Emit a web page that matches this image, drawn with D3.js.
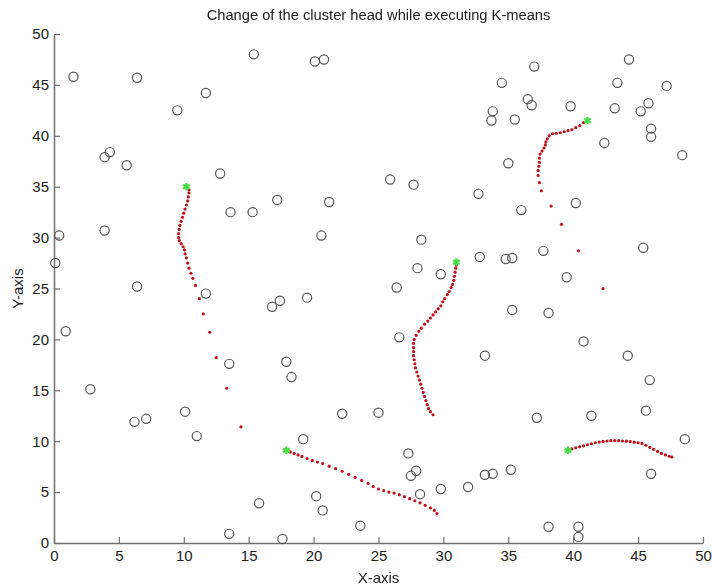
<!DOCTYPE html>
<html>
<head>
<meta charset="utf-8">
<script src="https://cdn.jsdelivr.net/npm/d3@7"></script>
<style>
  html, body { margin: 0; padding: 0; background: #fff; }
  svg { display: block; font-family: "Liberation Sans", Arial, sans-serif; }
</style>
</head>
<body>
<svg id="chart" width="712" height="587"></svg>
<script>
// Sensor node positions
const nodeX = [1.5, 6.4, 15.4, 20.1, 20.8, 11.7, 9.5, 3.9, 4.3, 5.6, 12.8, 17.2, 21.2, 13.6, 15.3, 3.9, 0.4, 20.6, 0.1, 6.4,
  11.7, 16.8, 17.4, 19.5, 0.9, 13.5, 17.9, 18.3, 2.8, 10.1, 6.2, 7.1, 22.2, 25.0, 11.0, 19.2, 20.2, 20.7, 15.8, 23.6,
  13.5, 17.6, 37.0, 44.3, 34.5, 43.4, 47.2, 36.5, 36.8, 39.8, 43.2, 45.8, 45.2, 33.8, 33.7, 35.5, 46.0, 46.0, 42.4, 48.4,
  35.0, 25.9, 27.7, 32.7, 40.2, 36.0, 28.3, 45.4, 32.8, 34.8, 35.3, 37.7, 28.0, 29.8, 39.5, 26.4, 35.3, 38.1, 26.6, 40.8,
  33.2, 44.2, 45.9, 37.2, 41.4, 45.6, 48.6, 27.3, 27.9, 27.5, 46.0, 33.2, 33.8, 35.2, 28.2, 29.8, 31.9, 38.1, 40.4, 40.4];
const nodeY = [45.8, 45.7, 48.0, 47.3, 47.5, 44.2, 42.5, 37.9, 38.4, 37.1, 36.3, 33.7, 33.5, 32.5, 32.5, 30.7, 30.2, 30.2, 27.5, 25.2,
  24.5, 23.2, 23.8, 24.1, 20.8, 17.6, 17.8, 16.3, 15.1, 12.9, 11.9, 12.2, 12.7, 12.8, 10.5, 10.2, 4.6, 3.2, 3.9, 1.7,
  0.9, 0.4, 46.8, 47.5, 45.2, 45.2, 44.9, 43.6, 43.0, 42.9, 42.7, 43.2, 42.4, 42.4, 41.5, 41.6, 40.7, 39.9, 39.3, 38.1,
  37.3, 35.7, 35.2, 34.3, 33.4, 32.7, 29.8, 29.0, 28.1, 27.9, 28.0, 28.7, 27.0, 26.4, 26.1, 25.1, 22.9, 22.6, 20.2, 19.8,
  18.4, 18.4, 16.0, 12.3, 12.5, 13.0, 10.2, 8.8, 7.1, 6.6, 6.8, 6.7, 6.8, 7.2, 4.8, 5.3, 5.5, 1.6, 1.6, 0.6];

// Cluster head positions over the K-means iterations (final head first)
const head1 = [[10.2,35.0],[10.4,34.7],[10.4,34.4],[10.35,34.0],[10.3,33.6],[10.2,33.2],[10.1,32.8],[10.0,32.4],[9.9,32.0],
  [9.8,31.6],[9.7,31.2],[9.65,30.8],[9.6,30.4],[9.6,30.0],[9.65,29.7],[9.8,29.4],[9.95,29.1],[10.05,28.8],[10.1,28.4],
  [10.2,28.0],[10.3,27.5],[10.4,27.0],[10.55,26.5],[10.7,26.0],[10.9,25.3],[11.2,24.0],[11.5,22.5],[12.0,20.7],
  [12.5,18.2],[13.3,15.2],[14.4,11.4]];
const head2 = [[31.0,27.6],[31.0,27.3],[30.95,27.0],[30.9,26.6],[30.85,26.2],[30.8,25.8],[30.7,25.4],[30.6,25.1],[30.45,24.7],
  [30.3,24.4],[30.1,24.0],[29.95,23.7],[29.8,23.3],[29.6,23.0],[29.4,22.7],[29.2,22.4],[29.0,22.1],[28.8,21.8],[28.55,21.5],
  [28.3,21.1],[28.1,20.8],[27.9,20.4],[27.75,20.0],[27.7,19.6],[27.7,19.2],[27.7,18.8],[27.7,18.4],[27.75,18.0],[27.8,17.6],
  [27.85,17.2],[27.95,16.8],[28.05,16.4],[28.15,16.0],[28.25,15.6],[28.35,15.2],[28.45,14.8],[28.55,14.4],[28.65,14.0],
  [28.75,13.6],[28.85,13.2],[29.0,12.9],[29.2,12.6]];
const head3 = [[17.9,9.1],[18.2,8.95],[18.5,8.8],[18.8,8.65],[19.1,8.5],[19.5,8.3],[19.9,8.1],[20.3,7.95],[20.7,7.8],[21.2,7.55],
  [21.7,7.3],[22.2,7.05],[22.7,6.75],[23.2,6.45],[23.7,6.15],[24.2,5.85],[24.6,5.55],[25.0,5.3],[25.4,5.15],[25.8,5.0],
  [26.2,4.9],[26.6,4.75],[27.0,4.55],[27.4,4.35],[27.8,4.15],[28.2,3.95],[28.6,3.7],[29.0,3.45],[29.3,3.2],[29.5,2.9]];
const head4 = [[41.1,41.5],[40.8,41.3],[40.5,41.0],[40.2,40.8],[39.9,40.6],[39.6,40.5],[39.3,40.4],[39.0,40.3],[38.7,40.25],
  [38.4,40.2],[38.15,40.0],[38.0,39.7],[37.9,39.4],[37.85,39.1],[37.75,38.8],[37.6,38.5],[37.45,38.2],[37.4,37.8],[37.4,37.4],
  [37.35,37.0],[37.3,36.6],[37.3,36.1],[37.4,35.4],[37.55,34.6],[38.3,33.1],[39.1,31.3],[40.4,28.7],[42.3,25.0]];
const head5 = [[39.6,9.1],[39.9,9.25],[40.2,9.35],[40.5,9.45],[40.8,9.55],[41.1,9.65],[41.4,9.75],[41.7,9.85],[42.0,9.92],
  [42.3,9.98],[42.6,10.02],[42.9,10.05],[43.2,10.05],[43.5,10.05],[43.8,10.02],[44.1,10.0],[44.4,9.97],[44.7,9.9],[45.0,9.85],
  [45.3,9.78],[45.6,9.6],[45.9,9.4],[46.2,9.2],[46.5,9.0],[46.8,8.8],[47.1,8.65],[47.4,8.52],[47.6,8.45]];
const heads = [head1, head2, head3, head4, head5];

const tickValues = [0, 5, 10, 15, 20, 25, 30, 35, 40, 45, 50];

const svg = d3.select("#chart");
const margin = { left: 54, right: 9, top: 34, bottom: 44 };
const W = 712, H = 587;

const x = d3.scaleLinear().domain([0, 50]).range([margin.left, W - margin.right]);
const y = d3.scaleLinear().domain([0, 50]).range([H - margin.bottom, margin.top]);

const defs = svg.append("defs");
defs.append("filter").attr("id", "soft")
  .append("feGaussianBlur").attr("stdDeviation", 0.7);

// Axes with inward ticks
const axisColor = "#707070";
const gx = svg.append("g")
  .attr("transform", `translate(0,${y(0)})`)
  .call(d3.axisBottom(x).tickValues(tickValues).tickSizeInner(-6).tickSizeOuter(0).tickPadding(7));
const gy = svg.append("g")
  .attr("transform", `translate(${x(0)},0)`)
  .call(d3.axisLeft(y).tickValues(tickValues).tickSizeInner(-6).tickSizeOuter(0).tickPadding(5));
[gx, gy].forEach(g => {
  g.select(".domain").attr("stroke", axisColor).attr("stroke-width", 1.5);
  g.selectAll(".tick line").attr("stroke", axisColor).attr("stroke-width", 1.2);
  g.selectAll(".tick text").attr("fill", "#222").style("font-size", "15px")
    .style("font-family", "'Liberation Sans', Arial, sans-serif");
});

// Sensor nodes
svg.append("g").selectAll("circle")
  .data(d3.range(nodeX.length))
  .join("circle")
  .attr("cx", i => x(nodeX[i]))
  .attr("cy", i => y(nodeY[i]))
  .attr("r", 4.6)
  .attr("fill", "none")
  .attr("stroke", "#555")
  .attr("stroke-width", 1.2);

// Cluster head trajectories
const trail = svg.append("g");
heads.forEach(h => {
  trail.append("g").selectAll("circle")
    .data(h.slice(1))
    .join("circle")
    .attr("cx", d => x(d[0]))
    .attr("cy", d => y(d[1]))
    .attr("r", 1.6)
    .attr("fill", "#c0101a");
});

// Final cluster heads
const star = d3.symbol().type(d3.symbolAsterisk).size(40);
svg.append("g").attr("filter", "url(#soft)").selectAll("path")
  .data(heads.map(h => h[0]))
  .join("path")
  .attr("transform", d => `translate(${x(d[0])},${y(d[1])})`)
  .attr("d", star)
  .attr("fill", "none")
  .attr("stroke", "#44dd44")
  .attr("stroke-width", 2.2);

// Labels
svg.append("text")
  .attr("x", (x(0) + x(50)) / 2).attr("y", 20)
  .attr("text-anchor", "middle")
  .style("font-size", "14.7px").attr("fill", "#222")
  .text("Change of the cluster head while executing K-means");
svg.append("text")
  .attr("x", (x(0) + x(50)) / 2).attr("y", 583)
  .attr("text-anchor", "middle")
  .style("font-size", "15px").attr("fill", "#222")
  .text("X-axis");
svg.append("text")
  .attr("transform", `translate(23,${(y(0) + y(50)) / 2}) rotate(-90)`)
  .attr("text-anchor", "middle")
  .style("font-size", "15px").attr("fill", "#222")
  .text("Y-axis");
</script>
</body>
</html>
